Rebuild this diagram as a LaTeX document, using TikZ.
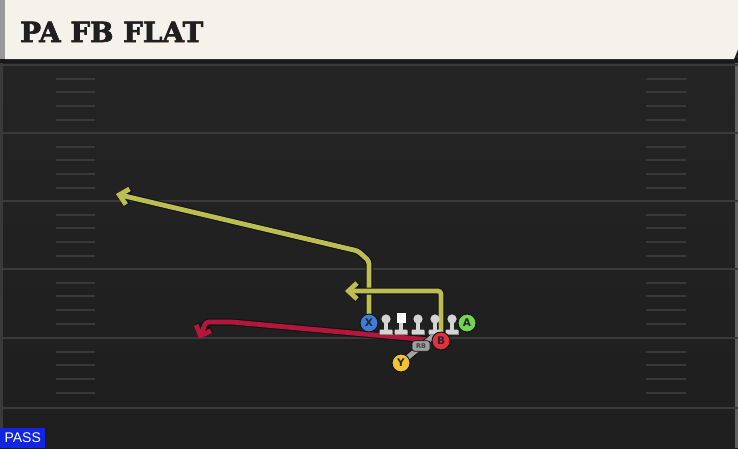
\documentclass[tikz,border=0pt]{standalone}
\usepackage{fontspec}
\newfontfamily\titlefont{DejaVu Serif}[BoldFeatures={FakeBold=2.4}]
\newfontfamily\uifont{Liberation Sans}
\newfontfamily\lblfont{DejaVu Sans}
\usetikzlibrary{arrows.meta}
\definecolor{fieldc}{HTML}{252525}
\definecolor{fieldlow}{HTML}{1E1E1E}
\definecolor{yardc}{HTML}{3A3A3A}
\definecolor{hashc}{HTML}{393939}
\definecolor{creamc}{HTML}{F5F2EB}
\definecolor{routey}{HTML}{BDBE52}
\definecolor{router}{HTML}{B3173C}
\definecolor{outl}{HTML}{141414}
\definecolor{bluec}{HTML}{3C7DD8}
\definecolor{greenc}{HTML}{74D552}
\definecolor{redc}{HTML}{E4303C}
\definecolor{yellowc}{HTML}{F2C431}
\definecolor{linec}{HTML}{D4D4D4}
\definecolor{motionc}{HTML}{A4A4A4}
\definecolor{passc}{HTML}{1226E2}
\pgfdeclarelayer{field}
\pgfdeclarelayer{routes}
\pgfsetlayers{field,routes,main}
\tikzset{
  player/.style={circle, draw=outl, line width=1pt, minimum size=18pt, inner sep=0pt,
    font=\lblfont\bfseries\fontsize{10.5}{10.5}\selectfont, text=black!85},
  routeout/.style={draw=outl, line width=7pt, line join=round, rounded corners=3pt},
  routein/.style={line width=4.8pt, line join=round, rounded corners=3pt},
  tipout/.style={-{Straight Barb[length=8.5pt,width=16pt,line width=7pt]}},
  tipin/.style={-{Straight Barb[length=8.5pt,width=16pt,line width=4.8pt]}},
  yardline/.style={draw=yardc, line width=2pt},
  hashmark/.style={draw=hashc, line width=2pt},
}
\newcommand{\lineman}[2]{%
  \fill[linec] (#1-1.8,#2) rectangle (#1+1.8,#2+12);
  \fill[linec, rounded corners=1pt] (#1-6.5,#2+10.5) rectangle (#1+6.5,#2+15.5);
  \fill[black!45] (#1-6.5,#2+14.5) rectangle (#1+6.5,#2+15.5);
}
\begin{document}
\begin{tikzpicture}[x=1pt,y=-1pt]
\useasboundingbox (0,0) rectangle (738,448);
\begin{pgfonlayer}{field}
  \shade[top color=fieldc, bottom color=fieldlow] (0,0) rectangle (738,448);
  % edges
  \fill[yardc] (0,60) rectangle (3,448);
  \fill[yardc!80] (735,60) rectangle (738,448);
  % yard lines
  \foreach \yy in {65,133,201,269,338,408} {
    \draw[yardline] (0,\yy) -- (738,\yy);
  }
  % hash marks
  \foreach \yy in {65,133,201,269,338} {
    \foreach \k in {1,2,3,4} {
      \draw[hashmark] (56,\yy+13.7*\k) -- (95,\yy+13.7*\k);
      \draw[hashmark] (646,\yy+13.7*\k) -- (686,\yy+13.7*\k);
    }
  }
  % header
  \fill[black!90] (0,58) rectangle (738,63);
  \fill[black!40] (0,0) rectangle (6,59);
  \fill[creamc] (5,0) -- (738,0) -- (738,49) -- (734,59) -- (5,59) -- cycle;
\end{pgfonlayer}

\node[anchor=base west, inner sep=0pt, text=black!88,
  font=\titlefont\bfseries\fontsize{27.8}{27.8}\selectfont] (title) at (20,42) {PA FB FLAT};

% players
\node[player, fill=bluec] (X) at (369,323) {X};
\node[player, fill=greenc] (A) at (467,323) {A};
\node[player, fill=yellowc] (Y) at (401,363) {Y};

% route coordinates
\coordinate (bpos) at (441,341);
\coordinate (x1) at (369,261);
\coordinate (x2) at (358,251);
\coordinate (xt) at (116,194);
\coordinate (b1) at (441,291);
\coordinate (bt) at (345,291);
\coordinate (r1) at (232,322);
\coordinate (r2) at (206,322);
\coordinate (rt) at (199,339);
\coordinate (m1) at (437,333);

\begin{pgfonlayer}{routes}
  % X route
  \draw[routeout, tipout] (X.center) -- (x1) -- (x2) -- (xt);
  \draw[routein, tipin, draw=routey] (X.center) -- (x1) -- (x2) -- (xt);
  % B yellow route
  \draw[routeout, tipout] (bpos) -- (b1) -- (bt);
  \draw[routein, tipin, draw=routey] (bpos) -- (b1) -- (bt);
  % red route
  \draw[routeout, tipout] (bpos) -- (r1) -- (r2) -- (rt);
  \draw[routein, tipin, draw=router] (bpos) -- (r1) -- (r2) -- (rt);
  % motion line
  \draw[draw=outl, line width=7pt] (Y.center) -- (m1);
  \draw[draw=motionc, line width=5pt] (Y.center) -- (m1);
\end{pgfonlayer}

% linemen
\foreach \lx in {386,418,435,452} {
  \lineman{\lx}{319}
  \fill[linec] (\lx,319) circle (4.6);
}
\lineman{401}{319}
\fill[white] (396.5,313) rectangle (405.5,323);

% B on top of nearby lineman
\node[player, fill=redc] (B) at (bpos) {B};

% RB tag
\node[draw=outl, line width=0.8pt, fill=black!38, rounded corners=2.5pt,
  minimum width=18pt, minimum height=10.5pt, inner sep=0pt,
  font=\lblfont\bfseries\fontsize{6.5}{6.5}\selectfont, text=black!75] (RB) at (421,346) {RB};

% PASS tag
\node[fill=passc, anchor=south west, minimum width=45pt, minimum height=20pt, inner sep=0pt,
  text=white, font=\uifont\fontsize{14}{14}\selectfont] (pass) at (0,448) {PASS};
\end{tikzpicture}
\end{document}
